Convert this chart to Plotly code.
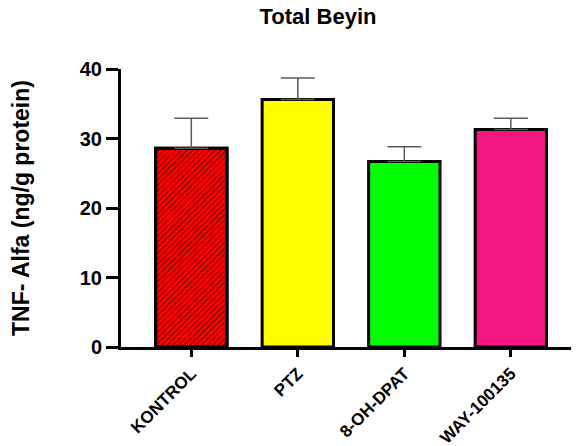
import plotly.graph_objects as go

categories = ["KONTROL", "PTZ", "8-OH-DPAT", "WAY-100135"]
means = [28.6, 35.6, 26.7, 31.3]
sems = [4.3, 3.1, 2.1, 1.6]
colors = ["#FF0000", "#FFFF00", "#00FF00", "#F5177F"]
hatched = ["KONTROL"]
y_ticks = [0, 10, 20, 30, 40]

FONT = "Liberation Sans, Arial, sans-serif"
# the page body has an 8px default margin; size the figure so it ends at the window edge
W, H = 571, 438

fig = go.Figure()
fig.add_trace(go.Bar(
    x=categories, y=means,
    width=0.67,
    marker=dict(color=colors, line=dict(color="black", width=3)),
))
# diagonal hatch on the control bar
h_idx = [categories.index(c) for c in hatched]
fig.add_trace(go.Bar(
    x=[categories[i] for i in h_idx], y=[means[i] for i in h_idx],
    width=0.67,
    marker=dict(
        color="black",
        line=dict(color="black", width=3),
        pattern=dict(shape="/", fgcolor="black", size=4, solidity=0.2, fillmode="replace"),
    ),
))
# error bars on top
fig.add_trace(go.Bar(
    x=categories, y=means,
    width=0.67,
    marker=dict(color="rgba(0,0,0,0)", line=dict(width=0)),
    error_y=dict(type="data", symmetric=False, array=sems, arrayminus=[0]*4,
                 color="#5a5a5a", thickness=1.5, width=17),
    hoverinfo="skip",
))

fig.update_layout(
    barmode="overlay",
    width=W, height=H,
    margin=dict(l=113, r=0, t=61, b=99, autoexpand=False),
    plot_bgcolor="white", paper_bgcolor="white",
    showlegend=False,
    title=dict(text="Total Beyin", x=310/W, xanchor="center", y=1-8/H, yanchor="middle",
               font=dict(family=FONT, size=22, color="black", weight="bold")),
    font=dict(family=FONT, color="black"),
)
fig.update_xaxes(
    range=[-0.66, 3.64],
    categoryorder="array", categoryarray=categories,
    automargin=False,
    showline=True, linecolor="black", linewidth=3,
    ticks="outside", ticklen=7, tickwidth=3, tickcolor="black",
    tickangle=-45,
    tickfont=dict(family=FONT, size=17, color="black", weight="bold"),
    showgrid=False, zeroline=False,
)
fig.update_yaxes(
    range=[0, 40],
    automargin=False,
    tickvals=y_ticks,
    showline=True, linecolor="black", linewidth=3,
    ticks="outside", ticklen=12, tickwidth=3, tickcolor="black",
    tickfont=dict(family=FONT, size=20, color="black", weight="bold"),
    showgrid=False, zeroline=False,
    title=dict(text="TNF- Alfa (ng/g protein)", font=dict(family=FONT, size=23, color="black", weight="bold"), standoff=48),
)

fig.write_html("out.html")
